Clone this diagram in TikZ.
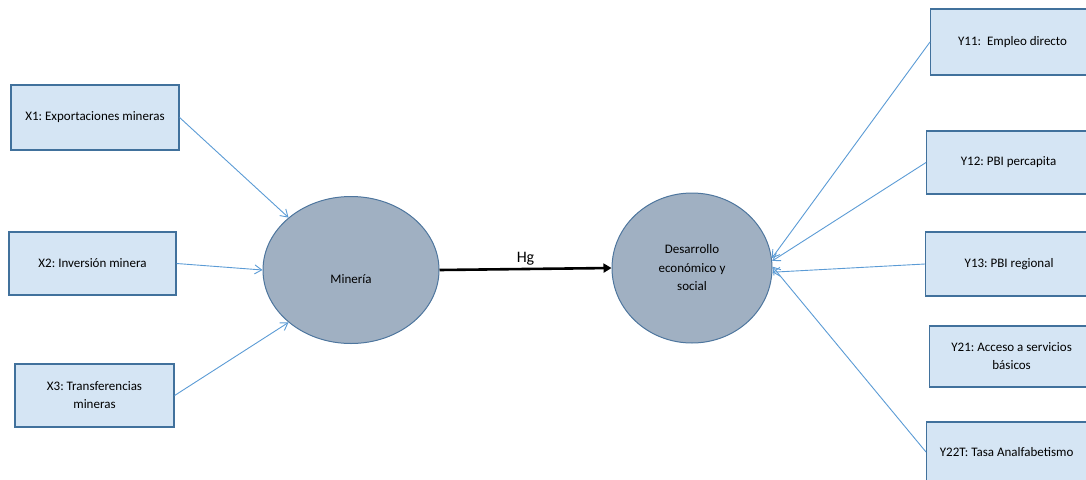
\documentclass[tikz,border=0pt]{standalone}
\usepackage{fontspec}
\setmainfont{Carlito}
\usepackage{tikz}
\usetikzlibrary{arrows.meta,shapes.geometric}
\frenchspacing

\definecolor{boxfill}{RGB}{213,229,244}
\definecolor{boxedge}{RGB}{65,113,156}
\definecolor{ellfill}{RGB}{160,176,194}
\definecolor{elledge}{RGB}{78,118,158}
\definecolor{linkblue}{RGB}{91,155,213}

\tikzset{
	indbox/.style={draw=boxedge, fill=boxfill, line width=1.2pt, inner sep=0pt,
		minimum height=63pt, align=center, font=\fontsize{13}{18}\selectfont},
	latent/.style={ellipse, draw=elledge, fill=ellfill, line width=1pt, inner sep=0pt,
		align=center, font=\fontsize{13}{18.5}\selectfont},
	link/.style={draw=linkblue, line width=0.9pt, -{Straight Barb[length=7pt,width=9pt]}},
	path/.style={draw=black, line width=2.6pt, -{Triangle[length=8pt,width=9pt]}}
}

\begin{document}
\begin{tikzpicture}[x=1pt, y=-1pt]
		%%%%% START %%%%%
		
		\clip (0, 0) rectangle (1086, 479);
		
		% latent variables
		\node[latent, minimum width=176pt, minimum height=147pt,
			label={[yshift=-9pt, font=\fontsize{13}{18.5}\selectfont]center:Minería}] (min) at (351, 270) {};
		\node[latent, minimum width=160pt, minimum height=150pt] (des) at (692, 268) {Desarrollo\\económico y\\social};
		
		\draw[path] (min.east) -- node[above=-1pt, font=\fontsize{16}{18}\selectfont] (hg) {Hg} (des.west);
		
		% indicators of Mineria
		\node[indbox, minimum width=168pt, minimum height=65pt] (x1) at (95, 117.5) {X1: Exportaciones mineras};
		\node[indbox, minimum width=167pt] (x2) at (92.5, 263.5) {X2: Inversión minera};
		\node[indbox, minimum width=159pt] (x3) at (94.5, 395.5) {X3: Transferencias\\mineras};
		
		\draw[link] (x1.east) -- (min.140);
		\draw[link] (x2.east) -- (min.180);
		\draw[link] (x3.east) -- (min.220);
		
		% indicators of Desarrollo
		\node[indbox, minimum width=164pt, minimum height=66pt, anchor=west] (y11) at (930, 42) {Y11:~ Empleo directo};
		\node[indbox, minimum width=164pt, anchor=west] (y12) at (926, 162.5) {Y12: PBI percapita};
		\node[indbox, minimum width=167pt, minimum height=64pt, anchor=west] (y13) at (925, 264) {Y13: PBI regional};
		\node[indbox, minimum width=164pt, minimum height=61pt, anchor=west] (y21) at (929, 356.5) {Y21: Acceso a servicios\\básicos};
		\node[indbox, minimum width=160pt, minimum height=60pt, anchor=west] (y22) at (926, 452) {Y22T: Tasa Analfabetismo};
		
		\draw[link] (y11.west) -- (des.7);
		\draw[link] (y12.west) -- (des.5);
		\draw[link] (y13.west) -- (des.-3);
		\draw[link] (y22.west) -- (des.1);
		
		%%%%% END %%%%%
	\end{tikzpicture}
\end{document}
